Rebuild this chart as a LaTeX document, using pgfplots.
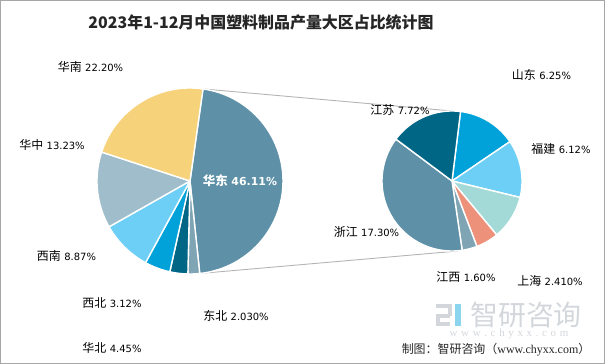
\documentclass[border=0pt]{standalone}
\usepackage{pgfplots}
\pgfplotsset{compat=1.18}
\usepackage{fontspec}
\setmainfont{DejaVu Sans}
\newfontfamily\cjk{Noto Sans CJK SC}
\newfontfamily\urlfont{Liberation Serif}

\definecolor{cHuadong}{HTML}{5E91A8}
\definecolor{cHuanan}{HTML}{F6D37B}
\definecolor{cHuazhong}{HTML}{A0BDCB}
\definecolor{cXinan}{HTML}{6DCFF6}
\definecolor{cHuabei}{HTML}{00A2D9}
\definecolor{cXibei}{HTML}{006686}
\definecolor{cDongbei}{HTML}{7FA5B5}
\definecolor{cAnhui}{HTML}{A3DAD8}
\definecolor{cShanghai}{HTML}{EE917A}
\definecolor{cLine}{HTML}{B4B4B4}
\definecolor{cText}{HTML}{333333}
\definecolor{cWater}{HTML}{D3D7DC}

\newcommand{\lab}[2]{{\cjk\fontsize{12}{13}\selectfont #1}\hspace{3.5bp}#2}

\newcommand{\curang}{0}
\newcommand{\pcx}{0}
\newcommand{\pcy}{0}
\newcommand{\pr}{0}
\newcommand{\pscale}{3.6}
% one pie slice, clockwise from the current angle; #1 = value, #2 = colour
\newcommand{\pieslice}[2]{%
  \pgfmathsetmacro{\nextang}{\curang-(#1)*\pscale}%
  \edef\doslice{\noexpand\addplot[mark=none, fill=#2, draw=white, line width=1.4bp, line join=round, domain=\nextang:\curang, samples=60, variable=\noexpand\t] ({\pcx+\pr*cos(\noexpand\t)},{\pcy+\pr*sin(\noexpand\t)}) -- (axis cs:\pcx,\pcy) -- cycle;}%
  \doslice
  \global\let\curang\nextang
}

\begin{document}
\begin{tikzpicture}
\begin{axis}[
  width=605bp, height=364bp, scale only axis,
  xmin=0, xmax=605, ymin=0, ymax=364,
  hide axis, clip=false,
  every node/.style={font=\fontsize{10.5}{13}\selectfont, text=cText, inner sep=0pt},
]
% frame
\draw[color=gray!70, line width=1bp] (axis cs:0.5,0.5) rectangle (axis cs:604.5,363.5);

% connector lines
\addplot[mark=none, color=cLine, line width=0.9bp] coordinates {(202.9,275.1) (452,253)};
\addplot[mark=none, color=cLine, line width=0.9bp] coordinates {(199.7,90.5) (458,113)};

% left pie (shares of China, %), clockwise from 82 deg
\renewcommand{\pcx}{190}\renewcommand{\pcy}{183}\renewcommand{\pr}{93}
\renewcommand{\pscale}{3.6}\renewcommand{\curang}{82}
\pieslice{46.11}{cHuadong}
\pieslice{2.03}{cDongbei}
\pieslice{3.12}{cXibei}
\pieslice{4.45}{cHuabei}
\pieslice{8.87}{cXinan}
\pieslice{13.23}{cHuazhong}
\pieslice{22.20}{cHuanan}

% right pie (breakdown of East China, %), clockwise from 83 deg
\renewcommand{\pcx}{452}\renewcommand{\pcy}{183}\renewcommand{\pr}{70}
\pgfmathsetmacro{\pscale}{360/46.11}\renewcommand{\curang}{83}
\pieslice{6.25}{cHuabei}
\pieslice{6.12}{cXinan}
\pieslice{4.71}{cAnhui}
\pieslice{2.41}{cShanghai}
\pieslice{1.60}{cDongbei}
\pieslice{17.30}{cHuadong}
\pieslice{7.72}{cXibei}

% title
\node[font=\cjk\fontsize{16}{18}\selectfont\bfseries, text=black!85] at (axis cs:261,342) {2023年1-12月中国塑料制品产量大区占比统计图};

% labels left pie
\node at (axis cs:90.5,297) {\lab{华南}{22.20\%}};
\node at (axis cs:52,219) {\lab{华中}{13.23\%}};
\node at (axis cs:66.5,108) {\lab{西南}{8.87\%}};
\node at (axis cs:112,61) {\lab{西北}{3.12\%}};
\node at (axis cs:236,48) {\lab{东北}{2.030\%}};
\node at (axis cs:112,16) {\lab{华北}{4.45\%}};
\node[text=white, font=\fontsize{11}{13}\selectfont\bfseries] at (axis cs:240,183) {{\cjk\fontsize{12.5}{13}\selectfont 华东}\hspace{3.5bp}46.11\%};

% labels right pie
\node at (axis cs:541.5,289) {\lab{山东}{6.25\%}};
\node at (axis cs:400,254) {\lab{江苏}{7.72\%}};
\node at (axis cs:561,215) {\lab{福建}{6.12\%}};
\node at (axis cs:366.5,132) {\lab{浙江}{17.30\%}};
\node at (axis cs:466,87) {\lab{江西}{1.60\%}};
\node at (axis cs:550,83) {\lab{上海}{2.410\%}};

% watermark
\fill[color=cWater] (axis cs:436,56) rectangle (axis cs:452,60);
\fill[color=cWater] (axis cs:448,48) rectangle (axis cs:452,58);
\fill[color=cWater] (axis cs:436,46) rectangle (axis cs:450,50);
\fill[color=cWater] (axis cs:436,38) rectangle (axis cs:440,48);
\fill[color=cWater] (axis cs:436,38) rectangle (axis cs:450,42);
\fill[color=cHuabei!45] (axis cs:455,38) rectangle (axis cs:461,60);
\node[font=\cjk\fontsize{28}{30}\selectfont, text=cWater] at (axis cs:526,49) {智研咨询};
\node[font=\fontsize{11}{12}\selectfont\urlfont, text=cWater] at (axis cs:509,30) {w\,\,w\,\,w\,\,.\,\,c\,\,h\,\,y\,\,x\,\,x\,\,.\,\,c\,\,o\,\,m};
\node[font=\cjk\fontsize{12}{13}\selectfont, text=black!85] at (axis cs:496,14) {制图：智研咨询（{\urlfont www.chyxx.com}）};
\end{axis}
\end{tikzpicture}
\end{document}
